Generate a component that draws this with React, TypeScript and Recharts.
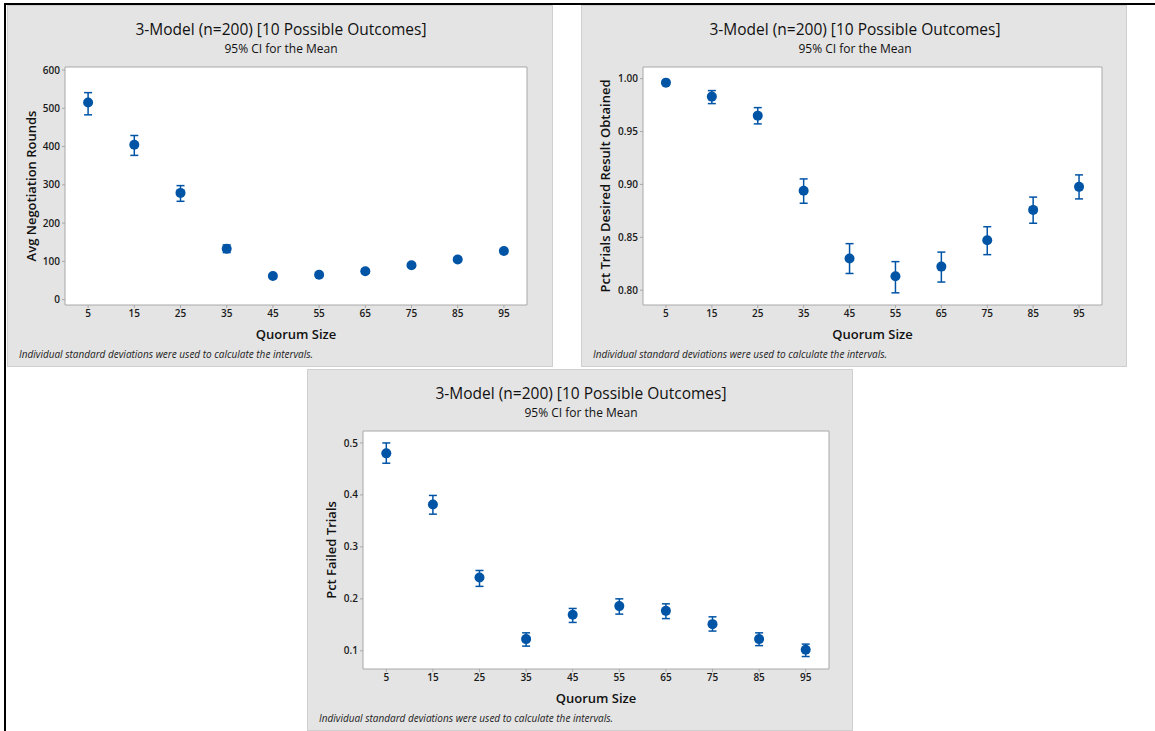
import React from "react"
import {
    ScatterChart,
    Scatter,
    XAxis,
    YAxis,
    ErrorBar,
    ReferenceArea,
} from "recharts"

// quorum sizes on the x axis
const quorumSizes = [5, 15, 25, 35, 45, 55, 65, 75, 85, 95]

// avg negotiation rounds (mean, lower CI, upper CI)
const roundsMean = [515, 405, 279, 133, 62, 65, 74, 90, 105, 127]
const roundsLow = [483, 377, 257, 123, 57, 60, 69, 85, 100, 122]
const roundsHigh = [541, 429, 298, 143, 67, 70, 80, 95, 111, 133]
const roundsTicks = [0, 100, 200, 300, 400, 500, 600]

// pct trials desired result obtained
const desiredMean = [0.9962, 0.983, 0.965, 0.894, 0.83, 0.8132, 0.8223, 0.8472, 0.8759, 0.8977]
const desiredLow = [0.9945, 0.9764, 0.9572, 0.8822, 0.8158, 0.7975, 0.8077, 0.8336, 0.8633, 0.8863]
const desiredHigh = [0.9978, 0.9887, 0.9726, 0.9052, 0.844, 0.827, 0.836, 0.86, 0.888, 0.909]
const desiredTicks = [0.8, 0.85, 0.9, 0.95, 1.0]

// pct failed trials
const failedMean = [0.48, 0.3815, 0.241, 0.1225, 0.1693, 0.186, 0.1769, 0.1513, 0.1225, 0.1019]
const failedLow = [0.461, 0.363, 0.224, 0.109, 0.1546, 0.1706, 0.162, 0.138, 0.11, 0.089]
const failedHigh = [0.5, 0.399, 0.2546, 0.1346, 0.1815, 0.2, 0.1904, 0.1654, 0.1346, 0.1129]
const failedTicks = [0.1, 0.2, 0.3, 0.4, 0.5]

const BLUE = "#0054a6"
const FONT = "'Open Sans', 'Noto Sans', sans-serif"

function buildRows(mean: number[], low: number[], high: number[]) {
    return quorumSizes.map((q, i) => ({
        x: q,
        y: mean[i],
        err: [mean[i] - low[i], high[i] - mean[i]],
    }))
}

interface PanelProps {
    left: number
    top: number
    yLabel: string
    mean: number[]
    low: number[]
    high: number[]
    yTicks: number[]
    yDomain: [number, number]
    digits: number
    plotLeft: number
    plotRight: number
}

function Panel({
    left,
    top,
    yLabel,
    mean,
    low,
    high,
    yTicks,
    yDomain,
    digits,
    plotLeft,
    plotRight,
}: PanelProps) {
    const rows = buildRows(mean, low, high)
    const W = 546
    const H = 362
    const tickStyle = { fontSize: 10, fill: "#1a1a1a", fontFamily: FONT, fontWeight: 600 }

    return (
        <div
            style={{
                position: "absolute",
                left,
                top,
                width: W - 2,
                height: H - 2,
                background: "#e4e4e4",
                border: "1px solid #cfcfcf",
            }}
        >
            <div
                style={{
                    position: "absolute",
                    left: 0,
                    width: W,
                    top: 12,
                    textAlign: "center",
                    fontFamily: FONT,
                    fontSize: 15.5,
                    fontWeight: 500,
                    color: "#111",
                }}
            >
                3-Model (n=200) [10 Possible Outcomes]
            </div>
            <div
                style={{
                    position: "absolute",
                    left: 0,
                    width: W,
                    top: 34,
                    textAlign: "center",
                    fontFamily: FONT,
                    fontSize: 12,
                    fontWeight: 500,
                    color: "#111",
                }}
            >
                95% CI for the Mean
            </div>
            <div
                style={{
                    position: "absolute",
                    left: 11,
                    top: 341,
                    fontFamily: FONT,
                    fontStyle: "italic",
                    fontSize: 10,
                    color: "#222",
                    whiteSpace: "nowrap",
                }}
            >
                Individual standard deviations were used to calculate the intervals.
            </div>
            <div style={{ position: "absolute", left: -1, top: -1 }}>
                <ScatterChart
                    width={W}
                    height={H}
                    margin={{ top: 62, right: W - plotRight, bottom: 22, left: 0 }}
                >
                    <ReferenceArea
                        x1={0}
                        x2={100}
                        y1={yDomain[0]}
                        y2={yDomain[1]}
                        fill="#ffffff"
                        fillOpacity={1}
                        stroke="#a8a8a8"
                        strokeWidth={1}
                    />
                    <XAxis
                        type="number"
                        dataKey="x"
                        domain={[0, 100]}
                        ticks={quorumSizes}
                        height={40}
                        axisLine={false}
                        tickLine={{ stroke: "#a8a8a8" }}
                        tickSize={3}
                        tick={tickStyle}
                        label={{
                            value: "Quorum Size",
                            position: "insideBottom",
                            offset: 6,
                            style: { fontSize: 13, fill: "#111", fontFamily: FONT, fontWeight: 600 },
                        }}
                    />
                    <YAxis
                        type="number"
                        dataKey="y"
                        domain={yDomain}
                        allowDataOverflow
                        ticks={yTicks}
                        width={plotLeft}
                        axisLine={false}
                        tickLine={{ stroke: "#a8a8a8" }}
                        tickSize={3}
                        tick={tickStyle}
                        tickFormatter={(v: number) => v.toFixed(digits)}
                        label={{
                            value: yLabel,
                            angle: -90,
                            position: "insideLeft",
                            offset: 24,
                            style: {
                                textAnchor: "middle",
                                fontSize: 13,
                                fill: "#111",
                                fontFamily: FONT,
                                fontWeight: 600,
                            },
                        }}
                    />
                    <Scatter
                        data={rows}
                        isAnimationActive={false}
                        shape={(p: any) => (
                            <circle cx={p.cx} cy={p.cy} r={5} fill={BLUE} />
                        )}
                    >
                        <ErrorBar
                            dataKey="err"
                            direction="y"
                            width={4}
                            stroke={BLUE}
                            strokeWidth={1.5}
                        />
                    </Scatter>
                </ScatterChart>
            </div>
        </div>
    )
}

export default function App() {
    return (
        <div
            style={{
                position: "absolute",
                left: 0,
                top: 0,
                width: 1155,
                height: 731,
                background: "#fff",
                overflow: "hidden",
            }}
        >
            <div style={{ position: "absolute", left: 4, top: 3, width: 1151, height: 2, background: "#000" }} />
            <div style={{ position: "absolute", left: 4, top: 3, width: 2, height: 728, background: "#000" }} />
            <Panel
                left={7}
                top={5}
                yLabel="Avg Negotiation Rounds"
                mean={roundsMean}
                low={roundsLow}
                high={roundsHigh}
                yTicks={roundsTicks}
                yDomain={[-14, 608]}
                digits={0}
                plotLeft={58}
                plotRight={520}
            />
            <Panel
                left={581}
                top={5}
                yLabel="Pct Trials Desired Result Obtained"
                mean={desiredMean}
                low={desiredLow}
                high={desiredHigh}
                yTicks={desiredTicks}
                yDomain={[0.786, 1.011]}
                digits={2}
                plotLeft={62}
                plotRight={521}
            />
            <Panel
                left={307}
                top={369}
                yLabel="Pct Failed Trials"
                mean={failedMean}
                low={failedLow}
                high={failedHigh}
                yTicks={failedTicks}
                yDomain={[0.065, 0.523]}
                digits={1}
                plotLeft={56}
                plotRight={522}
            />
        </div>
    )
}
